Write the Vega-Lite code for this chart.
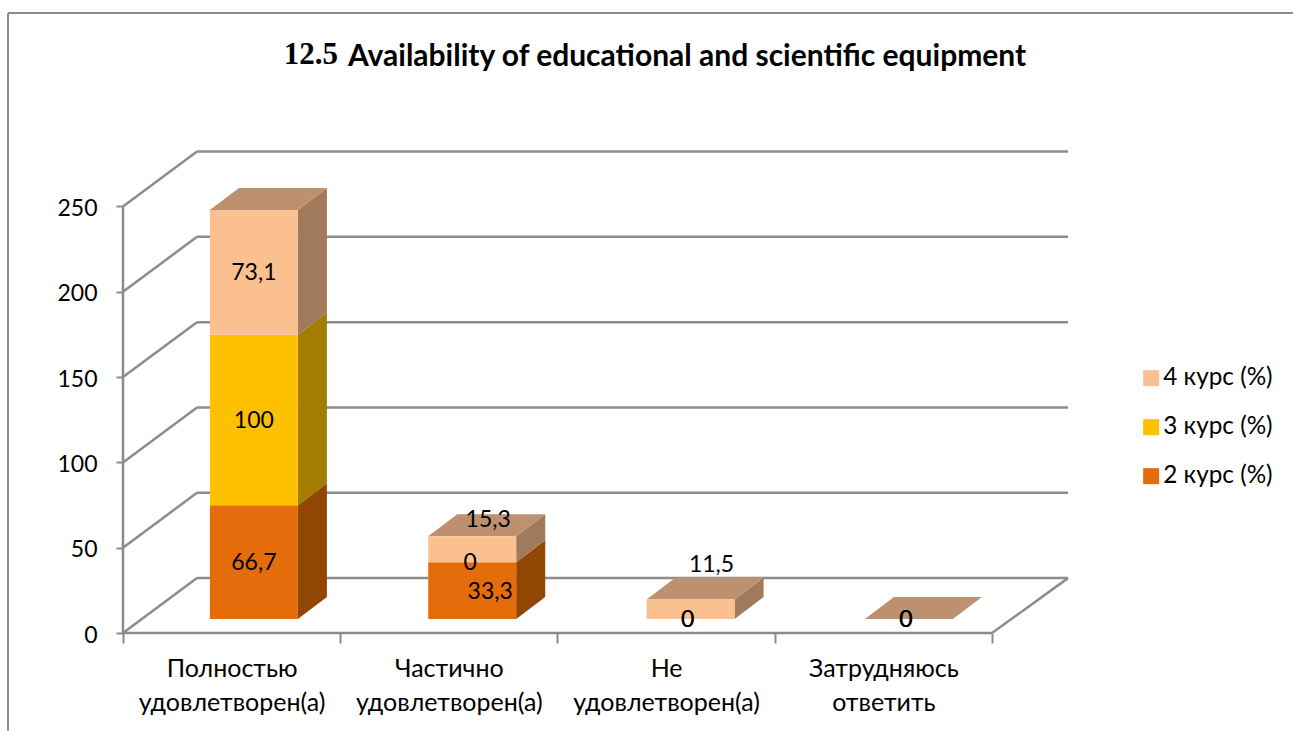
{
"$schema":"https://vega.github.io/schema/vega-lite/v6.json",
"autosize":"none","width":1285,"height":718,
"padding":{"left":8,"top":13,"right":0,"bottom":0},
"background":"white",
"title":{"text":"Availability of educational and scientific equipment","anchor":"start","dx":340,"offset":-60,"font":"Lato","fontSize":30,"fontWeight":"bold","color":"#000000","frame":"group"},
"config":{"view":{"stroke":null},"font":"Lato"},
"resolve":{"axis":{"x":"independent","y":"independent"},"legend":{"color":"independent"}},
"data":{"values":[
{"cat":"Полностью удовлетворен(а)","series":"2 курс (%)","value":66.7},
{"cat":"Полностью удовлетворен(а)","series":"3 курс (%)","value":100},
{"cat":"Полностью удовлетворен(а)","series":"4 курс (%)","value":73.1},
{"cat":"Частично удовлетворен(а)","series":"2 курс (%)","value":33.3},
{"cat":"Частично удовлетворен(а)","series":"3 курс (%)","value":0},
{"cat":"Частично удовлетворен(а)","series":"4 курс (%)","value":15.3},
{"cat":"Не удовлетворен(а)","series":"2 курс (%)","value":0},
{"cat":"Не удовлетворен(а)","series":"3 курс (%)","value":0},
{"cat":"Не удовлетворен(а)","series":"4 курс (%)","value":11.5},
{"cat":"Затрудняюсь ответить","series":"2 курс (%)","value":0},
{"cat":"Затрудняюсь ответить","series":"3 курс (%)","value":0},
{"cat":"Затрудняюсь ответить","series":"4 курс (%)","value":0}
]},
"transform":[
{"stack":"value","groupby":["cat"],"sort":[{"field":"series","order":"ascending"}],"as":["s0","s1"]},
{"calculate":"indexof(['Полностью удовлетворен(а)','Частично удовлетворен(а)','Не удовлетворен(а)','Затрудняюсь ответить'],datum.cat)","as":"i"},
{"calculate":"0.4+1.005*datum.i","as":"xl"},
{"calculate":"datum.xl+0.405","as":"xr"},
{"calculate":"datum.s0+8.2","as":"y0"},
{"calculate":"datum.s1+8.2","as":"y1"},
{"calculate":"(datum.xl+datum.xr)/2","as":"xc"},
{"calculate":"(datum.y0+datum.y1)/2","as":"yc"},
{"calculate":"replace(''+datum.value,'.',',')","as":"label"}
],
"layer":[
{"data":{"values":[{"v":0},{"v":50},{"v":100},{"v":150},{"v":200},{"v":250}]},
 "transform":[{"calculate":"datum.v+32.2","as":"vb"}],
 "mark":{"type":"rule","color":"#8c8c8c","strokeWidth":2.5},
 "encoding":{
  "x":{"datum":0.3406,"type":"quantitative","scale":{"domain":[-0.5293,5.3855],"nice":false,"zero":false},
   "axis":{"orient":"bottom","offset":-98,"values":[0,0.5,1,1.5,2,2.5,3,3.5,4],"domain":false,"grid":false,"title":null,"tickSize":10,"tickWidth":2,"tickColor":"#8c8c8c",
    "tickOpacity":{"condition":{"test":"datum.value%1==0","value":1},"value":0},
    "labelExpr":"datum.value==0.5?['Полностью','удовлетворен(а)']:datum.value==1.5?['Частично','удовлетворен(а)']:datum.value==2.5?['Не','удовлетворен(а)']:datum.value==3.5?['Затрудняюсь','ответить']:''",
    "labelFontSize":25,"labelFont":"Lato","labelColor":"#000000","labelLineHeight":34,"labelPadding":13,"labelLimit":300,"labelOverlap":false,"labelBound":false,"labelFlush":false,"labelAngle":0}},
  "x2":{"datum":4.35},
  "y":{"field":"vb","type":"quantitative","scale":{"domain":[-57.4,363.4],"nice":false,"zero":false},
   "axis":{"orient":"left","offset":-115,"values":[0,50,100,150,200,250],"domain":false,"grid":false,"title":null,"tickSize":7,"tickWidth":2,"tickColor":"#8c8c8c","labelFontSize":23,"labelFont":"Lato","labelColor":"#000000","labelPadding":19,"labelOffset":2}}
 }},
{"data":{"values":[{"v":0},{"v":50},{"v":100},{"v":150},{"v":200},{"v":250}]},
 "transform":[{"calculate":"datum.v+32.2","as":"vb"}],
 "mark":{"type":"rule","color":"#8c8c8c","strokeWidth":2.5},
 "encoding":{"x":{"datum":0,"type":"quantitative","axis":null},"x2":{"datum":0.3406},"y":{"field":"v","type":"quantitative","axis":null},"y2":{"field":"vb"}}},
{"data":{"values":[{"k":"floor"}]},
 "mark":{"type":"rule","color":"#8c8c8c","strokeWidth":2.5},
 "encoding":{"x":{"datum":4,"type":"quantitative","axis":null},"x2":{"datum":4.35},"y":{"datum":0,"type":"quantitative","axis":null},"y2":{"datum":32.2}}},
{"data":{"values":[{"k":"xaxis"}]},
 "mark":{"type":"rule","color":"#8c8c8c","strokeWidth":2.5},
 "encoding":{"x":{"datum":0,"type":"quantitative","axis":null},"x2":{"datum":4},"y":{"datum":0,"type":"quantitative","axis":null}}},
{"data":{"values":[{"k":"yaxis"}]},
 "mark":{"type":"rule","color":"#8c8c8c","strokeWidth":2.5},
 "encoding":{"x":{"datum":0,"type":"quantitative","axis":null},"y":{"datum":0,"type":"quantitative","axis":null},"y2":{"datum":250}}},
{"data":{"values":[{"k":"frame"}]},
 "mark":{"type":"rule","color":"#8c8c8c","strokeWidth":2},
 "encoding":{"x":{"datum":-0.5293,"type":"quantitative","axis":null},"y":{"datum":-57.4,"type":"quantitative","axis":null},"y2":{"datum":363.4}}},
{"data":{"values":[{"k":"frame"}]},
 "mark":{"type":"rule","color":"#8c8c8c","strokeWidth":2},
 "encoding":{"x":{"datum":-0.5293,"type":"quantitative","axis":null},"x2":{"datum":5.3855},"y":{"datum":363.4,"type":"quantitative","axis":null}}},
{"transform":[
 {"calculate":"[0,1]","as":"t"},{"flatten":["t"]},
 {"calculate":"datum.xr+datum.t*0.1335","as":"X"},
 {"calculate":"datum.y0+datum.t*12.9","as":"Y0"},
 {"calculate":"datum.y1+datum.t*12.9","as":"Y1"},
 {"calculate":"datum.cat+datum.series","as":"key"}],
 "mark":{"type":"area","orient":"vertical"},
 "encoding":{
  "x":{"field":"X","type":"quantitative","axis":null},
  "y":{"field":"Y0","type":"quantitative","axis":null,"stack":null},
  "y2":{"field":"Y1"},
  "detail":{"field":"key"},
  "fill":{"field":"series","type":"nominal","legend":null,"scale":{"domain":["4 курс (%)","3 курс (%)","2 курс (%)"],"range":["#a07a5a","#a37c00","#914604"]}}
 }},
{"transform":[
 {"filter":"datum.series=='4 курс (%)'"},
 {"calculate":"[0,1,2,3]","as":"t"},{"flatten":["t"]},
 {"calculate":"datum.t==0?datum.xl:datum.t==1?datum.xl+0.1335:datum.t==2?datum.xr:datum.xr+0.1335","as":"X"},
 {"calculate":"datum.t==3?datum.y1+12.9:datum.y1","as":"Ya"},
 {"calculate":"datum.t==0?datum.y1:datum.y1+12.9","as":"Yb"}],
 "mark":{"type":"area","orient":"vertical","color":"#bd916f"},
 "encoding":{
  "x":{"field":"X","type":"quantitative","axis":null},
  "y":{"field":"Ya","type":"quantitative","axis":null,"stack":null},
  "y2":{"field":"Yb"},
  "detail":{"field":"cat"}
 }},
{"mark":{"type":"rect"},
 "encoding":{
  "x":{"field":"xl","type":"quantitative","axis":null},"x2":{"field":"xr"},
  "y":{"field":"y0","type":"quantitative","axis":null},"y2":{"field":"y1"},
  "color":{"field":"series","type":"nominal","title":null,
   "scale":{"domain":["4 курс (%)","3 курс (%)","2 курс (%)"],"range":["#fbc08f","#ffc000","#e46c0a"]},
   "legend":{"orient":"none","legendX":1131,"legendY":353,"title":null,"symbolType":"square","symbolSize":256,"symbolStrokeWidth":0,"labelFontSize":24.3,"labelFont":"Lato","labelColor":"#000000","labelOffset":0,"rowPadding":24,"labelLimit":200}}
 }},
{"transform":[{"filter":"datum.i==0"}],"mark":{"type":"text","fontSize":23,"font":"Lato","color":"#000000","dy":1},
 "encoding":{"x":{"field":"xc","type":"quantitative","axis":null},"y":{"field":"yc","type":"quantitative","axis":null},"text":{"field":"label"}}},
{"transform":[{"filter":"datum.i==1&&datum.value==33.3"}],"mark":{"type":"text","fontSize":23,"font":"Lato","color":"#000000","dx":18,"dy":1},
 "encoding":{"x":{"field":"xc","type":"quantitative","axis":null},"y":{"field":"yc","type":"quantitative","axis":null},"text":{"field":"label"}}},
{"transform":[{"filter":"datum.i==1&&datum.value==0"}],"mark":{"type":"text","fontSize":23,"font":"Lato","color":"#000000","dx":-2,"dy":1},
 "encoding":{"x":{"field":"xc","type":"quantitative","axis":null},"y":{"field":"yc","type":"quantitative","axis":null},"text":{"field":"label"}}},
{"transform":[{"filter":"datum.value==15.3"}],"mark":{"type":"text","fontSize":23,"font":"Lato","color":"#000000","dx":16,"dy":-29},
 "encoding":{"x":{"field":"xc","type":"quantitative","axis":null},"y":{"field":"yc","type":"quantitative","axis":null},"text":{"field":"label"}}},
{"transform":[{"filter":"datum.value==11.5"}],"mark":{"type":"text","fontSize":23,"font":"Lato","color":"#000000","dx":21,"dy":-44},
 "encoding":{"x":{"field":"xc","type":"quantitative","axis":null},"y":{"field":"yc","type":"quantitative","axis":null},"text":{"field":"label"}}},
{"transform":[{"filter":"datum.i>=2&&datum.value==0"}],"mark":{"type":"text","fontSize":23,"font":"Lato","color":"#000000","dx":-3,"dy":1},
 "encoding":{"x":{"field":"xc","type":"quantitative","axis":null},"y":{"field":"yc","type":"quantitative","axis":null},"text":{"field":"label"}}},
{"data":{"values":[{"t":"12.5"}]},"mark":{"type":"text","font":"Liberation Serif","fontSize":31,"fontWeight":"bold","color":"#000000","align":"left"},
 "encoding":{"x":{"datum":0.74,"type":"quantitative","axis":null},"y":{"datum":338.8,"type":"quantitative","axis":null},"text":{"field":"t"}}}
]
}
